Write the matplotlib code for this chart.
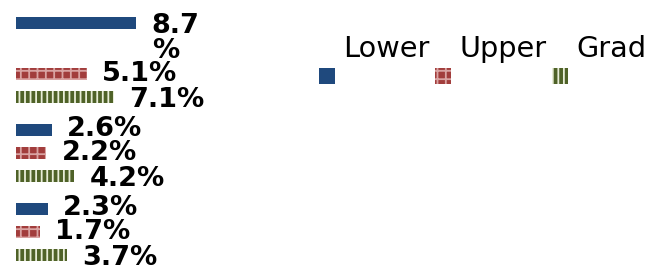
import matplotlib
matplotlib.use("Agg")
import matplotlib.pyplot as plt
from matplotlib.patches import Rectangle

series = ["Lower", "Upper", "Grad"]
lower = [8.7, 2.6, 2.3]
upper = [5.1, 2.2, 1.7]
grad = [7.1, 4.2, 3.7]
values = [lower, upper, grad]

colors = ["#1F497D", "#A23D3C", "#4F6228"]
hatches = [None, "++", "|||"]
hatch_cols = ["#1F497D", "#D9A3A2", "#E8EDD8"]
base_off = [-6, -7, -10]          # label baseline below bar centre (px)

W, H = 654, 278
px = 13.85                        # pixels per percent
plt.rcParams["hatch.linewidth"] = 1.3

fig = plt.figure(figsize=(W / 100, H / 100), dpi=100)
ax = fig.add_axes([0, 0, 1, 1])
ax.set_xlim(-16 / px, (W - 16) / px)
ax.set_ylim(H, 0)
ax.axis("off")

# row layout (pixels from top)
y = 23
for g in range(3):
    for s in range(3):
        v = values[s][g]
        ax.barh(y, v, height=12.5, color=colors[s], hatch=hatches[s],
                edgecolor=hatch_cols[s], linewidth=0)
        lab = f"{v:.1f}%"
        off = base_off[s]
        if g == 0 and s == 0:
            lab = "8.7\n%"
            off = -35
        ax.annotate(lab, (v, y), xytext=(11, off * 0.72),
                    textcoords="offset points", va="baseline", ha="left",
                    fontsize=19.5, fontweight="bold", color="black",
                    linespacing=0.95)
        step = 23
        if g == 0 and s == 0:
            step = 51
        if s == 2:
            step = 33
        y += step

# legend: label above, square handle below-left
leg_x = [319, 435, 552]
for i, name in enumerate(series):
    fig.text((leg_x[i] + 24) / W, 1 - 57 / H, name, fontsize=20.7,
             va="baseline", ha="left", color="black")
    fig.add_artist(Rectangle((leg_x[i] / W, 1 - 84 / H), 16 / W, 16 / H,
                             transform=fig.transFigure, facecolor=colors[i],
                             hatch=hatches[i], edgecolor=hatch_cols[i],
                             linewidth=0))

fig.savefig("out.png", dpi=100)
